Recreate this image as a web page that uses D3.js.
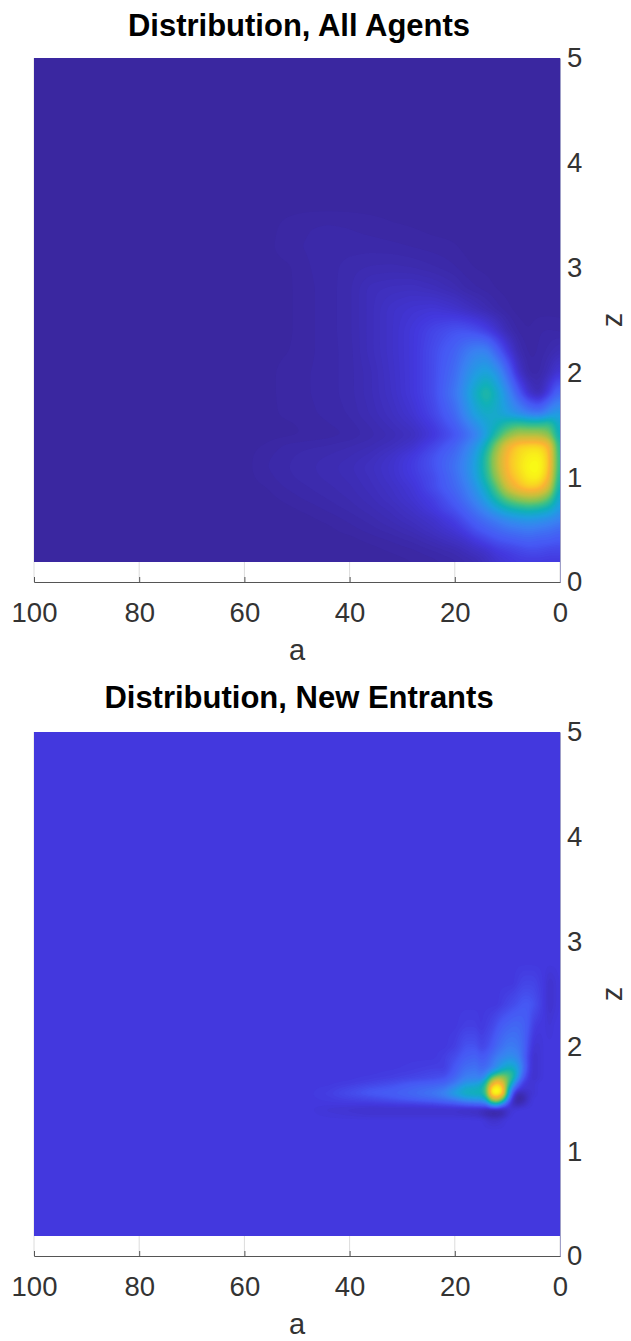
<!DOCTYPE html>
<html><head><meta charset="utf-8">
<script src="https://cdn.jsdelivr.net/npm/d3@7"></script>
<style>html,body{margin:0;padding:0;background:#fff}svg{display:block}text{font-family:"Liberation Sans",Arial,sans-serif}</style>
</head><body><svg id="c" width="631" height="1341"></svg>
<script>
const xTicks=[100,80,60,40,20,0], zTicks=[0,1,2,3,4,5];
const colorLevels=[0,7,12,20,28,36,46,56,70,84,93,100];
const colorStops=["#3a27a0","#4338de","#4658f4","#3a80f2","#1f9fe0","#10b0b8","#3cc088","#80c458","#c8bf3c","#fcb434","#f8dc20","#f9fb15"];

const aAll=[100,60,56,52,48,44,40,36,32,28,24,20,18,16,14,12,10,8,6,4,2,1,0];
const zAll=[5,3.6,3.4,3.2,3,2.8,2.6,2.4,2.2,2,1.8,1.6,1.5,1.4,1.3,1.2,1.1,1,.9,.8,.7,.6,.5,.4,.3,.19];
const valuesAll=[
[0,0,0,0,0,0,0,0,0,0,0,0,0,0,0,0,0,0,0,0,0,0,0],
[0,0,0,0,0,0,0,0,0,0,0,0,0,0,0,0,0,0,0,0,0,0,0],
[0,0,0,.4,.7,.8,.7,.5,.3,.2,0,0,0,0,0,0,0,0,0,0,0,0,0],
[0,0,0,.6,.8,1,1,1,.9,.7,.5,.3,.1,0,0,0,0,0,0,0,0,0,0],
[0,0,0,.1,.7,1,1.5,1.8,1.9,1.7,1.3,.8,.4,.2,.1,0,0,0,0,0,0,0,0],
[0,0,0,.1,.6,1,1.6,3,3.4,3.6,3,2,1.2,.8,.5,.2,0,0,0,0,0,0,0],
[0,0,0,.1,.6,1,1.6,3,4.6,5.5,6,5,4,3,2,1,.4,0,0,0,0,0,0],
[0,0,0,.1,.6,1,1.6,3,4.6,6.5,9,11,11,10,8,5,2,.6,.2,.7,.8,.7,.6],
[0,0,0,.2,.6,1,1.5,3,4.6,6.5,10,14,18,21,21,14,7,2,.5,.8,1.5,2,2.5],
[0,0,0,.5,.7,1,1.5,2.6,4.4,6.5,10,16,22,27,30,25,15,5,1,1,3,5,6],
[0,0,0,.5,.7,1,1.5,2.6,4.2,6.5,10,18,25,34,42,33,23,13,5,2,8,13,15],
[0,0,0,.4,.6,.9,1.3,2.3,3.6,5.5,9,15,22,29,33,32,28,24,20,18,24,27,27],
[0,0,0,.1,.4,.7,1,1.8,3,4.5,7.5,13,18,24,30,35,42,46,44,44,46,38,30],
[0,0,0,.1,.3,.5,.8,1.5,2.3,3.5,6.5,11,15,20,28,42,57,66,66,66,58,42,32],
[0,0,.3,.9,1.1,1.3,1.7,2.2,3.2,5,9,14,19,25,36,58,80,90,92,92,84,56,34],
[0,0,.6,1.1,1.5,1.8,2.2,3,4.6,7,11,16,21,28,42,66,85,92,97,98,88,58,36],
[0,0,.7,1.2,1.6,2,2.6,3.6,5,7.5,11,17,22,29,42,66,85,93,99,100,88,58,36],
[0,0,.5,1.1,1.5,1.9,2.4,3.3,4.8,7,10,16,21,28,40,60,82,90,97,98,84,54,34],
[0,0,.2,.8,1.2,1.6,2.1,3,4.2,6,10,15,19,25,34,50,72,84,90,88,72,46,32],
[0,0,0,.4,.9,1.3,1.8,2.6,3.8,5.5,8,13,17,22,29,40,52,60,64,62,50,38,28],
[0,0,0,.1,.4,.9,1.4,2.1,3,4.5,7,11,14,18,23,29,35,38,40,38,34,30,25],
[0,0,0,0,.1,.4,.9,1.5,2.4,3.5,5,8,11,14,17,20,23,25,26,25,23,22,20],
[0,0,0,0,0,.1,.5,1,1.6,2.5,4,6,8,11,13,15,17,18,19,18,17,16,15],
[0,0,0,0,0,0,0,.4,.8,1.4,2.5,4,5,7,9,11,12,13,14,13,13,12,12],
[0,0,0,0,0,0,0,0,.3,.6,1.2,2,3,4,5,7,8,9,10,10,9,9,9],
[0,0,0,0,0,0,0,0,0,.2,.5,1,1.5,2,3.5,5,6,7,7,7,7,7,7]
];

const aNew=[100,48,44,40,36,32,28,24,22,20,18,16,15,14,13,12,11,10,9,8,7,6,5,4,3,2,1,0];
const zNew=[5,2.8,2.6,2.4,2.2,2,1.9,1.8,1.75,1.7,1.65,1.6,1.55,1.5,1.45,1.4,1.35,1.3,1.2,.19];
const valuesNew=[
[7,7,7,7,7,7,7,7,7,7,7,7,7,7,7,7,7,7,7,7,7,7,7,7,7,7,7,7],
[7,7,7,7,7,7,7,7,7,7,7,7,7,7,7,7,7,7,7,7,7,7,7,7,7,7,7,7],
[7,7,7,7,7,7,7,7,7,7,7,7,7,7,7,7,7,7,7,8,9,9,9,8,7,5,6,7],
[7,7,7,7,7,7,7,7,7,7,7,7,7,7,7,7,8,9,10,11,12,12,11,9,7,5,6,7],
[7,7,7,7,7,7,7,7,7,7,8,8,7,8,9,11,13,14,15,15,14,12,8,7,7,6,7,7],
[7,7,7,7,7,7,7,7,7,8,11,11,9,10,12,15,17,19,19,18,15,10,6,6,7,7,7,7],
[7,7,7,7,7,7,7,7,8,10,13,14,12,13,16,19,21,23,23,21,15,9,5,6,7,7,7,7],
[7,7,7,7,7,7,7.5,8,8,12,16,17,15,16,19,24,29,33,33,27,17,9,5,6,7,7,7,7],
[7,7,7,7,7,7.5,8,9,9,13,18,19,17,20,28,35,42,44,40,28,15,8,5,6,7,7,7,7],
[7,7,7,7,7.5,8,9,10,11,15,20,21,20,28,48,62,62,52,40,24,12,7,5,6,7,7,7,7],
[7,7,7,7.5,8.5,10,12,13,14,18,25,27,30,42,72,88,78,52,30,15,8,6,6,7,7,7,7,7],
[7,7,7.5,9,11,12,14,16,18,24,32,34,36,48,96,100,94,42,18,9,6,6,6,7,7,7,7,7],
[7,7,8,10,12,13,15,18,21,28,34,36,36,48,96,100,92,36,10,2,3,5,6,7,7,7,7,7],
[7,7,7.5,8.5,9.5,11,13,15,17,20,25,27,27,34,66,76,56,22,5,0,1,5,7,7,7,7,7,7],
[7,7,7,7,7,7.5,8,9,10,11,13,14,15,16,28,32,20,10,4,2,4,6,7,7,7,7,7,7],
[7,7,6,5.5,5,5,5,5,5,5,4.5,4.5,4,3,2.5,2.5,3,5,6,7,7,7,7,7,7,7,7,7],
[7,7,6.5,6,5.5,5.5,5.5,5.5,5.5,5.5,5,4.5,3.5,2,1,1,2,5,7,7,7,7,7,7,7,7,7,7],
[7,7,7,7,7,7,7,7,7,7,7,7,7,6,5,5,6,7,7,7,7,7,7,7,7,7,7,7],
[7,7,7,7,7,7,7,7,7,7,7,7,7,7,7,7,7,7,7,7,7,7,7,7,7,7,7,7],
[7,7,7,7,7,7,7,7,7,7,7,7,7,7,7,7,7,7,7,7,7,7,7,7,7,7,7,7]
];

const svg=d3.select("#c");
const color=d3.scaleLinear().domain(colorLevels).range(colorStops).clamp(true);
const L=34,R=560,W=R-L,H=524;
const thresholds=d3.range(.25,12,.5).concat(d3.range(12.25,100.5,1));

function panel(title,top,aGrid,zGrid,values,blurR,titleY,tailY,base){
  const x=d3.scaleLinear().domain([100,0]).range([L,R]);
  const y=d3.scaleLinear().domain([0,5]).range([top+H,top]);
  const g=svg.append("g");
  const zMin=d3.min(zGrid);
  const yBot=y(zMin);
  const aIdx=d3.scaleLinear().domain(aGrid).range(aGrid.map((_,i)=>i));
  const zIdx=d3.scaleLinear().domain(zGrid).range(zGrid.map((_,i)=>i));
  const w=W, h=Math.round(yBot-top);
  const field=new Float64Array(w*h);
  for(let j=0;j<h;j++){
    const zv=y.invert(top+j+.5), fz=zIdx(zv), j0=Math.min(Math.floor(fz),zGrid.length-2), tz=fz-j0;
    for(let i=0;i<w;i++){
      const av=x.invert(L+i+.5), fa=aIdx(av), i0=Math.min(Math.floor(fa),aGrid.length-2), ta=fa-i0;
      field[j*w+i]=(values[j0][i0]*(1-ta)+values[j0][i0+1]*ta)*(1-tz)+(values[j0+1][i0]*(1-ta)+values[j0+1][i0+1]*ta)*tz;
    }
  }
  d3.blur2({data:field,width:w,height:h},blurR);
  const hi=d3.max(field);
  const rescale=d3.scaleLinear().domain([base,hi]).range([base,100]);
  for(let k=0;k<field.length;k++) if(field[k]>base) field[k]=rescale(field[k]);
  const cells=d3.contours().size([w,h]).smooth(true).thresholds(thresholds)(field);
  const path=d3.geoPath(d3.geoTransform({point(px,py){this.stream.point(L+px,top+py);}}));
  const clipId="clip"+top;
  svg.append("clipPath").attr("id",clipId).append("rect").attr("x",L).attr("y",top).attr("width",W).attr("height",h);
  const grid=g.append("g").attr("stroke","#dcdcdc").attr("stroke-width",1);
  xTicks.forEach(t=>grid.append("line").attr("x1",x(t)).attr("x2",x(t)).attr("y1",top).attr("y2",top+H));
  const fieldG=g.append("g").attr("clip-path",`url(#${clipId})`);
  fieldG.append("rect").attr("x",L).attr("y",top).attr("width",W).attr("height",h).attr("fill",color(0));
  fieldG.selectAll("path").data(cells.filter(c=>c.coordinates.length)).join("path")
    .attr("d",path).attr("fill",d=>color(d.value+.25));
  const ax=g.append("g").attr("transform",`translate(0,${top+H})`)
    .call(d3.axisBottom(x).tickValues(xTicks).tickSize(-5).tickPadding(20).tickFormat(d3.format("d")));
  const ay=g.append("g").attr("transform",`translate(${R},0)`)
    .call(d3.axisRight(y).tickValues(zTicks).tickSize(0).tickPadding(7).tickFormat(d3.format("d")));
  [ax,ay].forEach(a=>{a.selectAll("path").attr("stroke","#555").attr("stroke-width",1);
    a.selectAll("line").attr("stroke","#555");
    a.selectAll("text").attr("fill","#333").attr("font-size",27.5).attr("font-family",'"Liberation Sans",Arial,sans-serif');});
  ay.select("path").attr("stroke","#9f9fc8");
  g.append("text").attr("x",299).attr("y",titleY).attr("text-anchor","middle").attr("font-weight","bold").attr("font-size",31).attr("fill","#000").text(title);
  g.append("text").attr("x",297).attr("y",tailY).attr("text-anchor","middle").attr("font-size",29).attr("fill","#333").text("a");
  g.append("text").attr("transform",`translate(622,${top+262}) rotate(-90)`).attr("text-anchor","middle").attr("font-size",29).attr("fill","#333").text("z");
}
panel("Distribution, All Agents",58,aAll,zAll,valuesAll,2.5,36,660,0);
panel("Distribution, New Entrants",732,aNew,zNew,valuesNew,1.2,708,1334,7);
</script></body></html>
